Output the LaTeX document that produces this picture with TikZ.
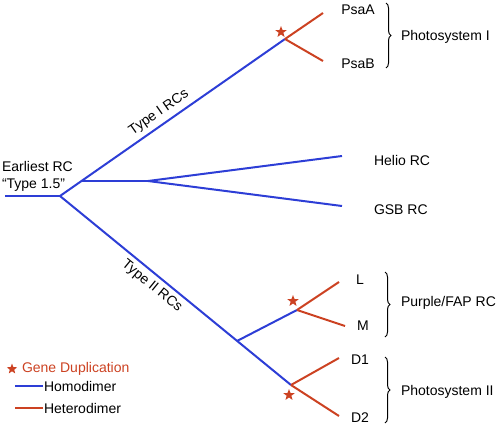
\documentclass[tikz,border=0pt]{standalone}
\usepackage{fontspec}
\setmainfont{Liberation Sans}
\usetikzlibrary{shapes.geometric,decorations.pathreplacing}
\definecolor{homoblue}{RGB}{45,62,214}
\definecolor{heterored}{RGB}{204,66,34}

\begin{document}
\begin{tikzpicture}[x=1pt,y=-1pt,line width=2pt,font=\fontsize{14}{17}\selectfont]
    \tikzstyle{homo}=[draw=homoblue]
    \tikzstyle{hetero}=[draw=heterored]
    \tikzstyle{dup}=[star,star points=5,star point ratio=2.4,fill=heterored,minimum size=12pt,inner sep=0pt]
    \tikzstyle{leaf}=[inner sep=0pt]
    \tikzstyle{grp}=[draw=black,line width=1pt,decorate,decoration={brace,amplitude=5pt}]

    \useasboundingbox (0,0) rectangle (498,426);

    % Draw the branch points
    \coordinate (start) at (5,196);
    \coordinate (root) at (60,196);
    \coordinate (hg) at (82,181);
    \coordinate (hgsplit) at (148,181);
    \coordinate (ps1) at (285,39);
    \coordinate (t2) at (237,341);
    \coordinate (pb) at (297,310);
    \coordinate (ps2) at (291,385);

    % Draw the tips
    \coordinate (psaa-end) at (323,13);
    \coordinate (psab-end) at (323,61);
    \coordinate (helio-end) at (342,156);
    \coordinate (gsb-end) at (342,206);
    \coordinate (l-end) at (339,282);
    \coordinate (m-end) at (345,326);
    \coordinate (d1-end) at (339,358);
    \coordinate (d2-end) at (339,416);

    % Homodimer branches
    \path[homo] (start) edge (root);
    \path[homo] (root) edge node[pos=0.47,sloped,above=1pt,black] {Type I RCs} (ps1);
    \path[homo] (root) edge node[pos=0.43,sloped,below=1pt,black] {Type II RCs} (ps2);
    \path[homo] (hg) edge (hgsplit);
    \path[homo] (hgsplit) edge (helio-end);
    \path[homo] (hgsplit) edge (gsb-end);
    \path[homo] (t2) edge (pb);

    % Heterodimer branches
    \path[hetero] (ps1) edge (psaa-end);
    \path[hetero] (ps1) edge (psab-end);
    \path[hetero] (pb) edge (l-end);
    \path[hetero] (pb) edge (m-end);
    \path[hetero] (ps2) edge (d1-end);
    \path[hetero] (ps2) edge (d2-end);

    % Gene duplications
    \node[dup] (dup1) at (281,32) {};
    \node[dup] (dup2) at (293,301) {};
    \node[dup] (dup3) at (289,395) {};

    % Labels
    \node[leaf,anchor=west,align=left] (earliest) at (1,176) {Earliest RC\\“Type 1.5”};
    \node[leaf] (psaa) at (358,10) {PsaA};
    \node[leaf] (psab) at (358,64) {PsaB};
    \node[leaf,anchor=west] (helio) at (373,160) {Helio RC};
    \node[leaf,anchor=west] (gsb) at (373,210) {GSB RC};
    \node[leaf] (l) at (360,280) {L};
    \node[leaf] (m) at (363,326) {M};
    \node[leaf] (d1) at (360,360) {D1};
    \node[leaf] (d2) at (360,418) {D2};

    % Groups
    \draw[grp] (386,3) -- (386,68);
    \node[leaf,anchor=west] (psI) at (400,37) {Photosystem I};
    \draw[grp] (385,272) -- (385,337);
    \node[leaf,anchor=west] (purple) at (400,303) {Purple/FAP RC};
    \draw[grp] (385,357) -- (385,423);
    \node[leaf,anchor=west] (psII) at (400,392) {Photosystem II};

    % Legend
    \node[dup,minimum size=11pt] (key-dup) at (12,369) {};
    \node[leaf,anchor=west,text=heterored] (key-dup-text) at (21,369) {Gene Duplication};
    \coordinate (key-homo) at (15,386);
    \node[leaf,anchor=west] (key-homo-text) at (43,386) {Homodimer};
    \path[homo] (key-homo) edge (key-homo-text.west);
    \coordinate (key-hetero) at (15,408);
    \node[leaf,anchor=west] (key-hetero-text) at (43,408) {Heterodimer};
    \path[hetero] (key-hetero) edge (key-hetero-text.west);
\end{tikzpicture}
\end{document}
